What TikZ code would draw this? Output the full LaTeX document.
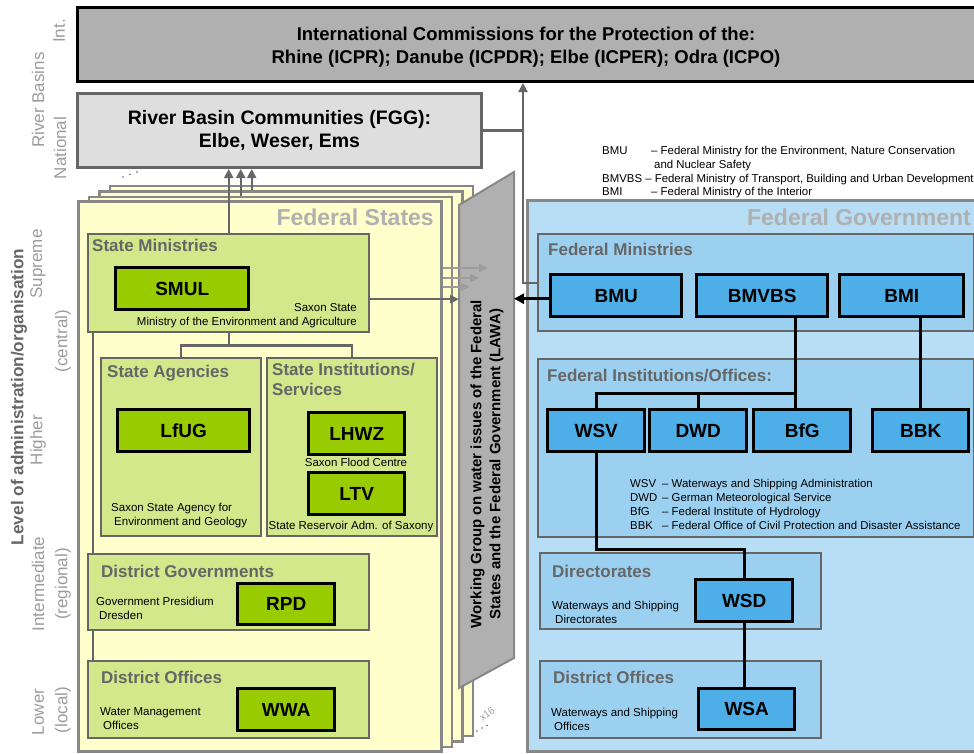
\documentclass[tikz,border=0pt]{standalone}
\usepackage{fontspec}
\setmainfont{Liberation Sans}
\usetikzlibrary{arrows.meta, positioning, calc}
\definecolor{intgray}{HTML}{B0B0B0}
\definecolor{fgggray}{HTML}{DEDEDE}
\definecolor{pageyellow}{HTML}{FFFFCC}
\definecolor{stategreen}{HTML}{D3E78B}
\definecolor{acrgreen}{HTML}{99CC00}
\definecolor{fedblue}{HTML}{B8DEF6}
\definecolor{unitblue}{HTML}{9CD0F0}
\definecolor{acrblue}{HTML}{4EAEE7}
\definecolor{framegray}{HTML}{888888}
\definecolor{linegray}{HTML}{666666}
\definecolor{labelgray}{HTML}{9C9C9C}
\definecolor{titlegray}{HTML}{B0B0B0}
\newcommand{\fsize}[2]{\fontsize{#1}{#2}\selectfont}

\begin{document}
\begin{tikzpicture}[x=1pt, y=-1pt, inner sep=0pt,
  unit/.style={draw=linegray, line width=2.4pt, anchor=north west},
  acr/.style={draw=black, line width=3.4pt, anchor=north west, minimum height=42pt, font=\fsize{19}{22}\bfseries},
  page/.style={draw=framegray, fill=pageyellow, line width=2.8pt, anchor=north west, minimum width=363pt, minimum height=550pt},
  unittitle/.style={anchor=west, text=linegray, font=\fsize{17}{20}\bfseries},
  note/.style={anchor=north west, align=left, font=\fsize{11.5}{14}},
  legend/.style={anchor=north west, align=left, font=\fsize{11.4}{13.8}},
  axislabel/.style={rotate=90, text=labelgray, font=\fsize{17}{20}},
  link/.style={draw=linegray, line width=2.3pt},
  backlink/.style={draw=labelgray, line width=2pt, -{Triangle[length=9pt, width=8pt]}},
  fedlink/.style={draw=black, line width=3pt},
  uparrow/.style={link, -{Triangle[length=9pt, width=9pt]}},
]
\useasboundingbox (0,0) rectangle (974,753);

% river basin level
\node[draw=black, fill=intgray, line width=3pt, anchor=north west, minimum width=902pt, minimum height=74pt] (icp) at (76,6) {};
\node[align=center, font=\fsize{18.5}{23}\bfseries] (icptext) at (526,47)
  {International Commissions for the Protection of the:\\Rhine (ICPR); Danube (ICPDR); Elbe (ICPER); Odra (ICPO)};
\node[draw=linegray, fill=fgggray, line width=3pt, anchor=north west, minimum width=404pt, minimum height=74pt,
      align=center, font=\fsize{19.5}{23}\bfseries] (fgg) at (76,92)
  {River Basin Communities (FGG):\\Elbe, Weser, Ems};

% left axis
\node[axislabel] (intlabel) at (59,31) {Int.};
\node[axislabel] (rblabel) at (38,100) {River Basins};
\node[axislabel] (natlabel) at (60,148) {National};
\node[axislabel, text=linegray, font=\fsize{17.2}{20}\bfseries] (levellabel) at (19,397) {Level of administration/organisation};
\node[axislabel] (suplabel) at (38,264) {Supreme};
\node[axislabel] (centlabel) at (63,341) {(central)};
\node[axislabel] (highlabel) at (38,440) {Higher};
\node[axislabel] (intmlabel) at (38,584) {Intermediate};
\node[axislabel] (reglabel) at (63,584) {(regional)};
\node[axislabel] (lowlabel) at (38,712) {Lower};
\node[axislabel] (loclabel) at (63,710) {(local)};

% federal states (stack of pages)
\node[page] (page3) at (108.5,184.5) {};
\node[page] (page2) at (98,190) {};
\node[page] (page1) at (87.5,195.5) {};
\node[page] (page0) at (77,200) {};
\node[anchor=east, text=titlegray, font=\fsize{23}{26}\bfseries] (fstitle) at (434,217) {Federal States};
\fill[linegray] (123,177) circle (0.9) (130,174.5) circle (0.9) (137,172) circle (0.9);
\node[rotate=38, text=labelgray, font=\fsize{10}{11}] (x16) at (487,714) {x16};
\fill[linegray] (477,731) circle (0.9) (482,728) circle (0.9) (487,725.5) circle (0.9);

\node[unit, fill=stategreen, minimum width=281pt, minimum height=98pt] (stmin) at (87,233) {};
\node[unittitle] (stmintitle) at (92,245) {State Ministries};
\node[acr, fill=acrgreen, minimum width=133pt] (smul) at (114,266) {SMUL};
\node[note, anchor=north east, align=right] (smulnote) at (357,303) {Saxon State\\Ministry of the Environment and Agriculture};

\node[unit, fill=stategreen, minimum width=160pt, minimum height=178pt] (agency) at (100,357) {};
\node[unittitle] (agencytitle) at (107,373) {State Agencies};
\node[acr, fill=acrgreen, minimum width=132pt] (lfug) at (116,408) {LfUG};
\node[note] (lfugnote) at (111,503) {Saxon State Agency for\\\hspace*{3pt}Environment and Geology};

\node[unit, fill=stategreen, minimum width=170pt, minimum height=178pt] (inst) at (266,357) {};
\node[unittitle, anchor=north west, align=left] (insttitle) at (272,363) {State Institutions/\\Services};
\node[acr, fill=acrgreen, minimum width=96pt] (lhwz) at (307,411) {LHWZ};
\node[note, anchor=center] (lhwznote) at (356,462) {Saxon Flood Centre};
\node[acr, fill=acrgreen, minimum width=96pt] (ltv) at (307,471) {LTV};
\node[note, anchor=center] (ltvnote) at (351,527) {State Reservoir Adm. of Saxony};

\node[unit, fill=stategreen, minimum width=281pt, minimum height=76pt] (distgov) at (87,553) {};
\node[unittitle] (distgovtitle) at (101,571) {District Governments};
\node[acr, fill=acrgreen, minimum width=97pt, minimum height=41pt] (rpd) at (236,582) {RPD};
\node[note] (rpdnote) at (96,597) {Government Presidium\\\hspace*{3pt}Dresden};

\node[unit, fill=stategreen, minimum width=281pt, minimum height=77pt] (distoff) at (87,660) {};
\node[unittitle] (distofftitle) at (101,677) {District Offices};
\node[acr, fill=acrgreen, minimum width=97pt] (wwa) at (236,687) {WWA};
\node[note] (wwanote) at (100,707) {Water Management\\\hspace*{3pt}Offices};

% links inside the federal states
\coordinate (split) at ([yshift=-12pt]stmin.south);
\draw[link] (stmin.south) -- (split);
\draw[link] (split) -| (agency.north);
\draw[link] (split) -| (inst.north);
\coordinate (leftdrop) at ([xshift=6pt]stmin.south west);
\draw[link] (leftdrop) -- (leftdrop |- distgov.north);
\draw[link] (leftdrop |- distgov.south) -- (leftdrop |- distoff.north);

% LAWA
\draw[draw=framegray, fill=intgray, line width=2pt] (459,205) -- (514,172) -- (514,658) -- (459,688) -- cycle;
\node[rotate=90, align=center, font=\fsize{15}{19}\bfseries] (lawa) at (487,464)
  {Working Group on water issues of the Federal\\States and the Federal Government (LAWA)};
\coordinate (lawaW) at (459,298);
\coordinate (lawaE) at (514,298);
\coordinate (lawa1) at (470,287);
\coordinate (lawa2) at (479,278);
\coordinate (lawa3) at (488,268);

\coordinate (smout) at ([yshift=-16pt]stmin.east);
\draw[link, -{Triangle[length=9pt, width=8pt]}] (smout) -- (smout -| lawaW);
\draw[backlink] (page0.east |- lawa1) -- (lawa1);
\draw[backlink] (page0.east |- lawa2) -- (lawa2);
\draw[backlink] (page0.east |- lawa3) -- (lawa3);

\coordinate (up1) at ([xshift=12pt]stmin.north);
\coordinate (up2) at ([xshift=23pt]stmin.north);
\draw[uparrow] (stmin.north) -- (stmin.north |- fgg.south);
\draw[uparrow] (up1 |- page1.north) -- (up1 |- fgg.south);
\draw[uparrow] (up2 |- page2.north) -- (up2 |- fgg.south);

% federal government
\node[draw=framegray, fill=fedblue, line width=3pt, anchor=north west, minimum width=470pt, minimum height=551pt] (fedgov) at (526,199) {};
\node[anchor=east, text=titlegray, font=\fsize{23}{26}\bfseries] (fedgovtitle) at (971,217) {Federal Government};
\node[legend] (minlegend) at (602,146)
  {\makebox[49pt][l]{BMU}– Federal Ministry for the Environment, Nature Conservation\\
   \hspace*{52pt}and Nuclear Safety\\
   BMVBS – Federal Ministry of Transport, Building and Urban Development\\
   \makebox[49pt][l]{BMI}– Federal Ministry of the Interior};

\node[unit, fill=unitblue, minimum width=436pt, minimum height=97pt] (fedmin) at (537,233) {};
\node[unittitle] (fedmintitle) at (548,249) {Federal Ministries};
\node[acr, fill=acrblue, minimum width=131pt] (bmu) at (549,273) {BMU};
\node[acr, fill=acrblue, minimum width=131pt] (bmvbs) at (695,273) {BMVBS};
\node[acr, fill=acrblue, minimum width=124pt] (bmi) at (838,273) {BMI};

\node[unit, fill=unitblue, minimum width=436pt, minimum height=178pt] (fedinst) at (537,358) {};
\node[unittitle] (fedinsttitle) at (547,376) {Federal Institutions/Offices:};
\node[acr, fill=acrblue, minimum width=97pt] (wsv) at (546,408) {WSV};
\node[acr, fill=acrblue, minimum width=97pt] (dwd) at (648,408) {DWD};
\node[acr, fill=acrblue, minimum width=97pt] (bfg) at (752,408) {BfG};
\node[acr, fill=acrblue, minimum width=96pt] (bbk) at (871,408) {BBK};
\node[legend, font=\fsize{11.4}{14}] (instlegend) at (630,479)
  {\makebox[32pt][l]{WSV}– Waterways and Shipping Administration\\
   \makebox[32pt][l]{DWD}– German Meteorological Service\\
   \makebox[32pt][l]{BfG}– Federal Institute of Hydrology\\
   \makebox[32pt][l]{BBK}– Federal Office of Civil Protection and Disaster Assistance};

\node[unit, fill=unitblue, minimum width=281pt, minimum height=76pt] (direct) at (539,552) {};
\node[unittitle] (directtitle) at (552,571) {Directorates};
\node[acr, fill=acrblue, minimum width=97pt] (wsd) at (694,578) {WSD};
\node[note] (wsdnote) at (552,601) {Waterways and Shipping\\\hspace*{3pt}Directorates};

\node[unit, fill=unitblue, minimum width=281pt, minimum height=77pt] (fedoff) at (539,660) {};
\node[unittitle] (fedofftitle) at (553,677) {District Offices};
\node[acr, fill=acrblue, minimum width=96pt, minimum height=41pt] (wsa) at (697,687) {WSA};
\node[note] (wsanote) at (551,708) {Waterways and Shipping\\\hspace*{3pt}Offices};

% federal links
\coordinate (bfgin) at ([xshift=-7pt]bfg.north);
\coordinate (fork) at ([yshift=15pt]bfgin);
\draw[fedlink] (bmvbs.south -| bfgin) -- (bfgin);
\draw[fedlink] (fork) -| (wsv.north);
\draw[fedlink] (fork -| dwd.north) -- (dwd.north);
\draw[fedlink] (bbk.north |- bmi.south) -- (bbk.north);
\draw[fedlink] (wsv.south) -- ++(0,96) -| (wsd.north);
\draw[fedlink] (wsd.south) -- (wsd.south |- wsa.north);

% links to the river basin level and to LAWA
\coordinate (riser) at ([xshift=-14pt]fedmin.west);
\draw[uparrow] (fedmin.west) -- (riser) -- (riser |- icp.south);
\draw[link] (fgg.east) -- (fgg.east -| riser);
\coordinate (bmuout) at ([yshift=-3pt]bmu.west);
\draw[fedlink, -{Triangle[length=10pt, width=10pt]}] (bmuout) -- (bmuout -| lawaE);
\end{tikzpicture}
\end{document}
